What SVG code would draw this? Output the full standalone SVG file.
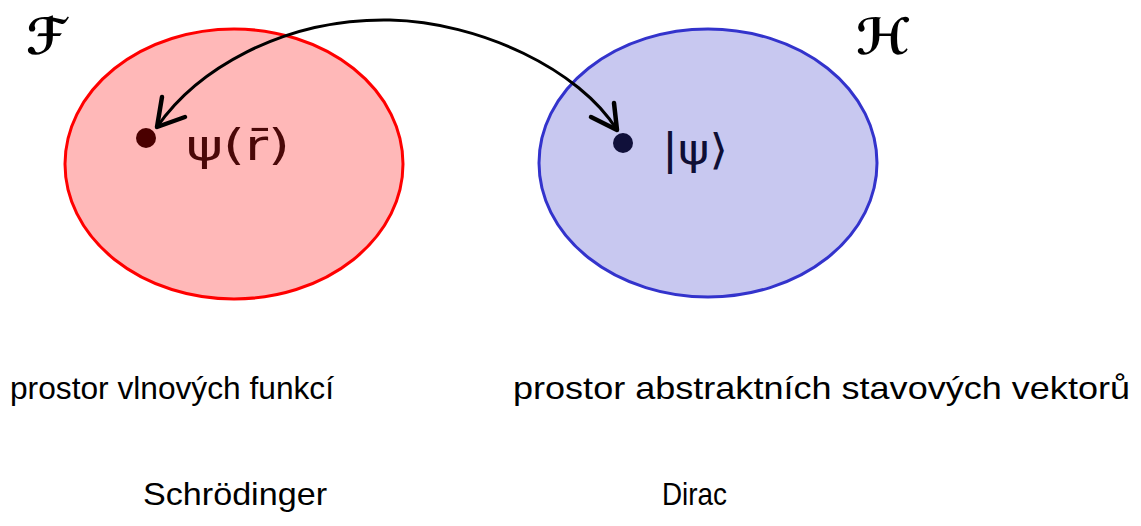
<svg xmlns="http://www.w3.org/2000/svg" width="1141" height="526" viewBox="0 0 1141 526">
<style>
.hand{font-family:"Liberation Sans","DejaVu Sans",sans-serif;font-size:32px;fill:#000}
.sym{font-family:"DejaVu Serif","DejaVu Sans",serif;font-size:50px;fill:#000;font-weight:bold}
.conn{fill:none;stroke:#000;stroke-width:3;stroke-linecap:round;stroke-linejoin:round}
.head{fill:none;stroke:#000;stroke-width:4.5;stroke-linecap:round;stroke-linejoin:round}
</style>
<rect width="1141" height="526" fill="#fff"/>
<g id="space-F">
<ellipse cx="234" cy="164" rx="169" ry="135" fill="#ffb8b8" stroke="#ff0000" stroke-width="3"/>
<text class="sym" x="26" y="54">ℱ</text>
</g>
<g id="space-H">
<ellipse cx="708" cy="163" rx="169" ry="134" fill="#c8c8f0" stroke="#3333cc" stroke-width="3"/>
<text class="sym" x="856" y="54">ℋ</text>
</g>
<g id="psi-r">
<circle cx="146" cy="138" r="10" fill="#4a0000"/>
<text x="186" y="160" font-family="DejaVu Sans,sans-serif" font-size="42" fill="#4a0808" textLength="104" lengthAdjust="spacingAndGlyphs">ψ(r̄)</text>
</g>
<g id="ket-psi">
<circle cx="623" cy="143" r="10" fill="#10103a"/>
<text x="662" y="164" font-family="DejaVu Sans,sans-serif" font-size="42" fill="#0f0f35" textLength="66" lengthAdjust="spacingAndGlyphs">|ψ⟩</text>
</g>
<g id="connectors">
<path class="conn" d="M 157 127 C 195 72, 280 18, 390 20 C 480 22, 580 70, 617 130"/>
<path class="head" d="M 162 97 L 157 127 L 185 117"/>
<path class="head" d="M 614 103 L 617 130 L 591 117"/>
</g>
<g id="labels">
<text class="hand" x="10" y="399" textLength="324" lengthAdjust="spacingAndGlyphs">prostor vlnových funkcí</text>
<text class="hand" x="513" y="399" textLength="617" lengthAdjust="spacingAndGlyphs">prostor abstraktních stavových vektorů</text>
<text class="hand" x="143" y="505" textLength="184" lengthAdjust="spacingAndGlyphs">Schrödinger</text>
<text class="hand" x="662" y="505" textLength="65" lengthAdjust="spacingAndGlyphs">Dirac</text>
</g>
</svg>
